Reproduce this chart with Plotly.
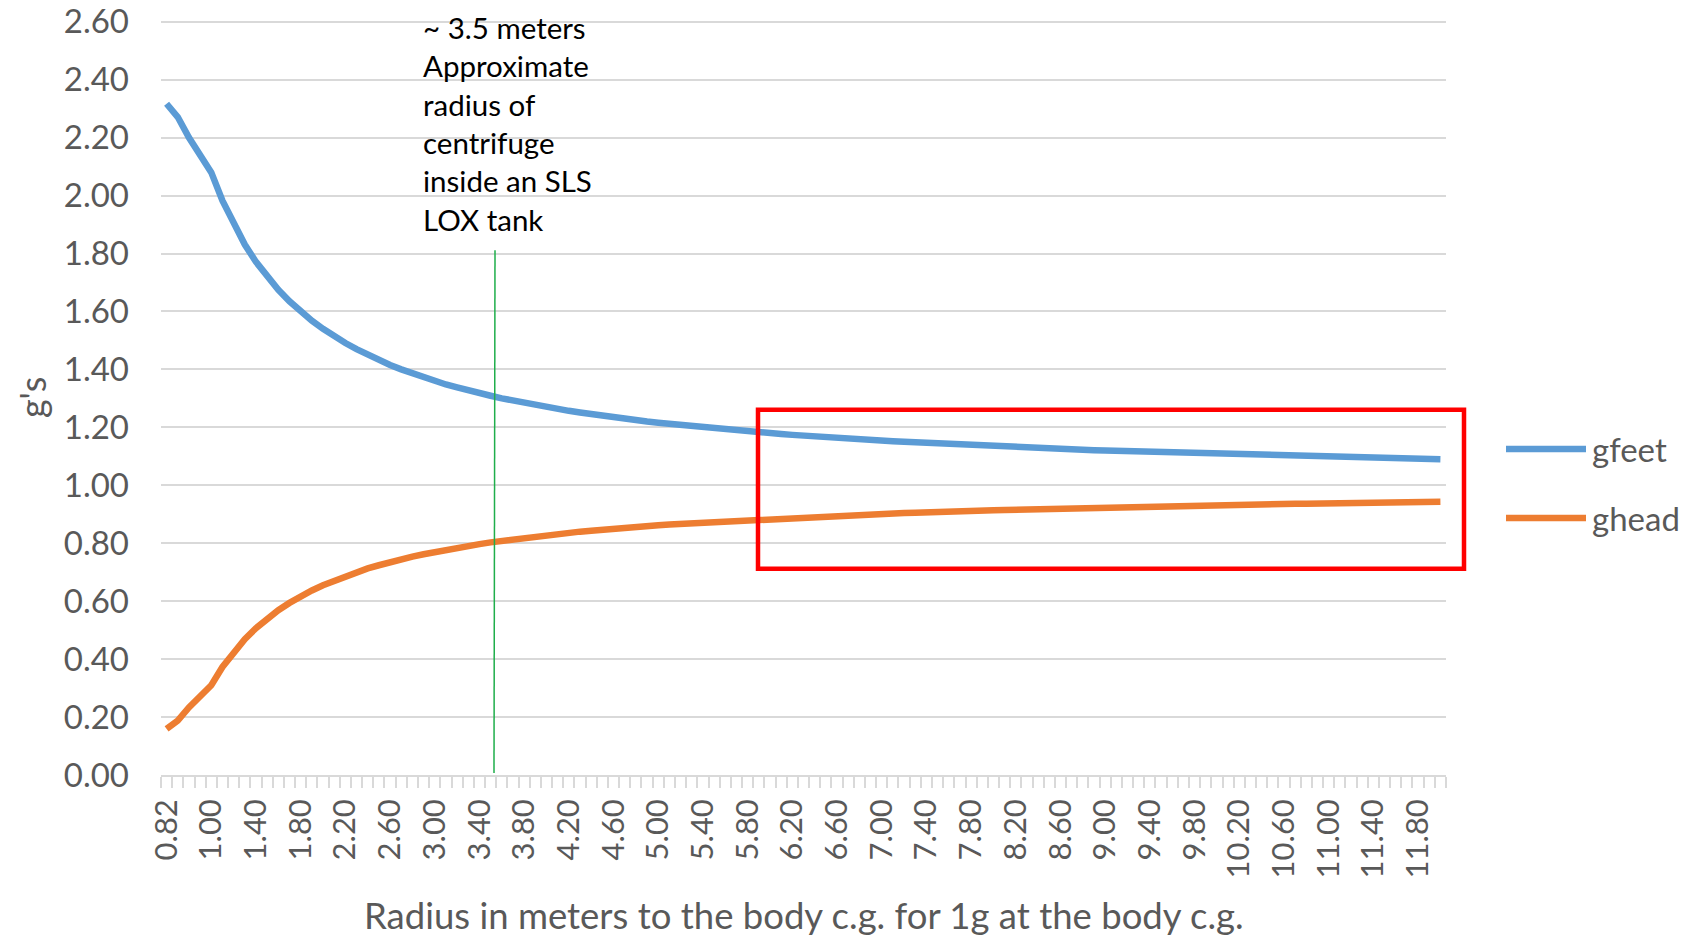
import plotly.graph_objects as go

# Radius in meters to body c.g. (category axis)
radius = [0.82, 0.85, 0.90, 0.95,
          1.0, 1.1, 1.2, 1.3, 1.4, 1.5, 1.6, 1.7, 1.8, 1.9,
          2.0, 2.1, 2.2, 2.3, 2.4, 2.5, 2.6, 2.7, 2.8, 2.9,
          3.0, 3.1, 3.2, 3.3, 3.4, 3.5, 3.6, 3.7, 3.8, 3.9,
          4.0, 4.1, 4.2, 4.3, 4.4, 4.5, 4.6, 4.7, 4.8, 4.9,
          5.0, 5.1, 5.2, 5.3, 5.4, 5.5, 5.6, 5.7, 5.8, 5.9,
          6.0, 6.1, 6.2, 6.3, 6.4, 6.5, 6.6, 6.7, 6.8, 6.9,
          7.0, 7.1, 7.2, 7.3, 7.4, 7.5, 7.6, 7.7, 7.8, 7.9,
          8.0, 8.1, 8.2, 8.3, 8.4, 8.5, 8.6, 8.7, 8.8, 8.9,
          9.0, 9.1, 9.2, 9.3, 9.4, 9.5, 9.6, 9.7, 9.8, 9.9,
          10.0, 10.1, 10.2, 10.3, 10.4, 10.5, 10.6, 10.7, 10.8, 10.9,
          11.0, 11.1, 11.2, 11.3, 11.4, 11.5, 11.6, 11.7, 11.8, 11.9,
          12.0]

gfeet = [2.317, 2.271, 2.200, 2.137,
         2.080, 1.982, 1.900, 1.831, 1.771, 1.720, 1.675, 1.635, 1.600, 1.568,
         1.540, 1.514, 1.491, 1.470, 1.450, 1.432, 1.415, 1.400, 1.386, 1.372,
         1.360, 1.348, 1.338, 1.327, 1.318, 1.309, 1.300, 1.292, 1.284, 1.277,
         1.270, 1.263, 1.257, 1.251, 1.245, 1.240, 1.235, 1.230, 1.225, 1.220,
         1.216, 1.212, 1.208, 1.204, 1.200, 1.196, 1.193, 1.189, 1.186, 1.183,
         1.180, 1.177, 1.174, 1.171, 1.169, 1.166, 1.164, 1.161, 1.159, 1.157,
         1.154, 1.152, 1.150, 1.148, 1.146, 1.144, 1.142, 1.140, 1.138, 1.137,
         1.135, 1.133, 1.132, 1.130, 1.129, 1.127, 1.126, 1.124, 1.123, 1.121,
         1.120, 1.119, 1.117, 1.116, 1.115, 1.114, 1.113, 1.111, 1.110, 1.109,
         1.108, 1.107, 1.106, 1.105, 1.104, 1.103, 1.102, 1.101, 1.100, 1.099,
         1.098, 1.097, 1.096, 1.096, 1.095, 1.094, 1.093, 1.092, 1.092, 1.091,
         1.090]

ghead = [0.159, 0.188, 0.233, 0.274,
         0.310, 0.373, 0.425, 0.469, 0.507, 0.540, 0.569, 0.594, 0.617, 0.637,
         0.655, 0.671, 0.686, 0.700, 0.713, 0.724, 0.735, 0.744, 0.754, 0.762,
         0.770, 0.777, 0.784, 0.791, 0.797, 0.803, 0.808, 0.814, 0.818, 0.823,
         0.828, 0.832, 0.836, 0.840, 0.843, 0.847, 0.850, 0.853, 0.856, 0.859,
         0.862, 0.865, 0.867, 0.870, 0.872, 0.875, 0.877, 0.879, 0.881, 0.883,
         0.885, 0.887, 0.889, 0.890, 0.892, 0.894, 0.895, 0.897, 0.899, 0.900,
         0.901, 0.903, 0.904, 0.905, 0.907, 0.908, 0.909, 0.910, 0.912, 0.913,
         0.914, 0.915, 0.916, 0.917, 0.918, 0.919, 0.920, 0.921, 0.922, 0.922,
         0.923, 0.924, 0.925, 0.926, 0.927, 0.927, 0.928, 0.929, 0.930, 0.930,
         0.931, 0.932, 0.932, 0.933, 0.934, 0.934, 0.935, 0.936, 0.936, 0.937,
         0.937, 0.938, 0.938, 0.939, 0.939, 0.940, 0.941, 0.941, 0.942, 0.942,
         0.943]

y_ticks = [0.0, 0.2, 0.4, 0.6, 0.8, 1.0, 1.2, 1.4, 1.6, 1.8, 2.0, 2.2, 2.4, 2.6]
y_max = 2.606  # a hair above the top tick so its gridline is kept

series_names = ["gfeet", "ghead"]
series_colors = ["#5b9bd5", "#ed7d31"]
label_every = 4

annotation_text = ("~ 3.5 meters<br>Approximate<br>radius of<br>centrifuge"
                   "<br>inside an SLS<br>LOX tank")
x_title = "Radius in meters to the body c.g. for 1g at the body c.g."
y_title = "g's"

cats = [f"{r:.2f}" for r in radius]
ticktext = [c if i % label_every == 0 else "" for i, c in enumerate(cats)]

# body margin is removed by post_script, so screen px == figure px
W, H = 1686, 939
Y0_SCREEN, Y26_SCREEN = 775.0, 21.5          # screen y of 0.00 and 2.60
PX_PER_UNIT = (Y0_SCREEN - Y26_SCREEN) / 2.6
TOP_SCREEN = Y0_SCREEN - y_max * PX_PER_UNIT
L, R, T, B = 161, 1446, TOP_SCREEN, Y0_SCREEN
PW, PH = R - L, B - T


def px(xs):
    return (xs - L) / PW


def py(ys):
    return (B - ys) / PH


GRAY = "#595959"
GRID = "#d9d9d9"

fig = go.Figure()
for name, vals, col in zip(series_names, [gfeet, ghead], series_colors):
    fig.add_trace(go.Scatter(x=cats, y=vals, mode="lines", name=name,
                             line=dict(color=col, width=6.5), showlegend=False))

fig.update_layout(
    width=W, height=H,
    margin=dict(l=L, r=W - R, t=T, b=H - B, pad=0, autoexpand=False),
    paper_bgcolor="white", plot_bgcolor="white",
    font=dict(family="Lato", color=GRAY),
    xaxis=dict(type="category", range=[-0.5, len(cats) - 0.5],
               tickmode="array", tickvals=cats, ticktext=ticktext,
               tickson="boundaries", ticks="outside", ticklen=11,
               tickwidth=1.5, tickcolor=GRID, showline=True, linecolor=GRID,
               linewidth=1.5, showgrid=False, tickangle=-90, automargin=False,
               ticklabelstandoff=10, ticklabeloverflow="allow",
               tickfont=dict(family="Lato", size=31, color=GRAY)),
    yaxis=dict(range=[0, y_max], tickmode="array", tickvals=y_ticks,
               tickformat=".2f",
               showgrid=True, gridcolor=GRID, gridwidth=1.5, zeroline=False,
               showline=False, ticks="", ticklabelstandoff=31, automargin=False,
               ticklabeloverflow="allow",
               tickfont=dict(family="Lato", size=33, color=GRAY)),
)

shapes = [
    dict(type="line", xref="paper", yref="paper", x0=px(495), x1=px(494),
         y0=py(250), y1=py(773), line=dict(color="#1fae4b", width=1.5)),
    dict(type="rect", xref="paper", yref="paper", x0=px(758), x1=px(1464),
         y0=py(568.7), y1=py(409.6), line=dict(color="#ff0000", width=4.5)),
]
legend_y = [449, 518]
for yy, col in zip(legend_y, series_colors):
    shapes.append(dict(type="line", xref="paper", yref="paper", x0=px(1506),
                       x1=px(1586), y0=py(yy), y1=py(yy),
                       line=dict(color=col, width=6.5)))
fig.update_layout(shapes=shapes)

annotations = [
    dict(text=annotation_text, xref="paper", yref="paper", x=px(421),
         y=py(8), xanchor="left", yanchor="top", align="left",
         showarrow=False, font=dict(family="Lato", size=29.5, color="black")),
    dict(text=x_title, xref="paper", yref="paper", x=0.5, y=py(915),
         xanchor="center", yanchor="middle", showarrow=False,
         font=dict(family="Lato", size=36.5, color=GRAY)),
    dict(text=y_title, xref="paper", yref="paper", x=px(32), y=py(398),
         xanchor="center", yanchor="middle", textangle=-90, showarrow=False,
         font=dict(family="Lato", size=36, color=GRAY)),
]
for yy, name in zip(legend_y, series_names):
    annotations.append(dict(text=name, xref="paper", yref="paper", x=px(1590),
                            y=py(yy), xanchor="left", yanchor="middle",
                            showarrow=False,
                            font=dict(family="Lato", size=33, color=GRAY)))
fig.update_layout(annotations=annotations)

fig.write_html("out.html", config={"displayModeBar": False},
               post_script="document.body.style.margin='0';"
                           "document.body.style.overflow='hidden';")
